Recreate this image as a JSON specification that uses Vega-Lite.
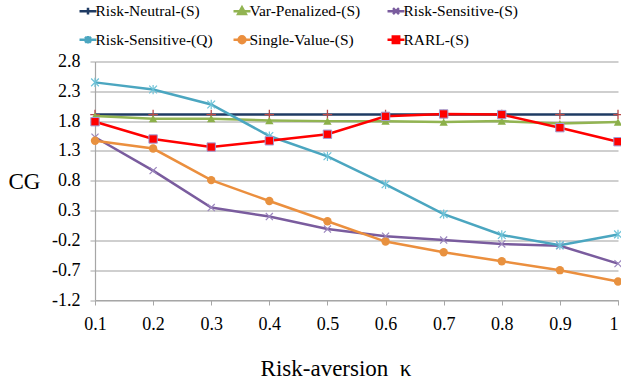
{
  "$schema": "https://vega.github.io/schema/vega-lite/v6.json",
  "width": 523,
  "height": 238.5,
  "autosize": "none",
  "padding": {"left": 95, "top": 61.5, "right": 3, "bottom": 82},
  "background": "white",
  "config": {"font": "Liberation Serif", "view": {"stroke": null}},
  "data": {
    "values": [
      {"kappa": 0.1, "series": "Risk-Neutral-(S)", "cg": 1.91},
      {"kappa": 0.2, "series": "Risk-Neutral-(S)", "cg": 1.91},
      {"kappa": 0.3, "series": "Risk-Neutral-(S)", "cg": 1.91},
      {"kappa": 0.4, "series": "Risk-Neutral-(S)", "cg": 1.91},
      {"kappa": 0.5, "series": "Risk-Neutral-(S)", "cg": 1.91},
      {"kappa": 0.6, "series": "Risk-Neutral-(S)", "cg": 1.91},
      {"kappa": 0.7, "series": "Risk-Neutral-(S)", "cg": 1.91},
      {"kappa": 0.8, "series": "Risk-Neutral-(S)", "cg": 1.91},
      {"kappa": 0.9, "series": "Risk-Neutral-(S)", "cg": 1.91},
      {"kappa": 1.0, "series": "Risk-Neutral-(S)", "cg": 1.91},
      {"kappa": 0.1, "series": "Var-Penalized-(S)", "cg": 1.885},
      {"kappa": 0.2, "series": "Var-Penalized-(S)", "cg": 1.84},
      {"kappa": 0.3, "series": "Var-Penalized-(S)", "cg": 1.84},
      {"kappa": 0.4, "series": "Var-Penalized-(S)", "cg": 1.81},
      {"kappa": 0.5, "series": "Var-Penalized-(S)", "cg": 1.80},
      {"kappa": 0.6, "series": "Var-Penalized-(S)", "cg": 1.80},
      {"kappa": 0.7, "series": "Var-Penalized-(S)", "cg": 1.785},
      {"kappa": 0.8, "series": "Var-Penalized-(S)", "cg": 1.80},
      {"kappa": 0.9, "series": "Var-Penalized-(S)", "cg": 1.76},
      {"kappa": 1.0, "series": "Var-Penalized-(S)", "cg": 1.785},
      {"kappa": 0.1, "series": "Risk-Sensitive-(S)", "cg": 1.53},
      {"kappa": 0.2, "series": "Risk-Sensitive-(S)", "cg": 0.97},
      {"kappa": 0.3, "series": "Risk-Sensitive-(S)", "cg": 0.35},
      {"kappa": 0.4, "series": "Risk-Sensitive-(S)", "cg": 0.20},
      {"kappa": 0.5, "series": "Risk-Sensitive-(S)", "cg": -0.01},
      {"kappa": 0.6, "series": "Risk-Sensitive-(S)", "cg": -0.13},
      {"kappa": 0.7, "series": "Risk-Sensitive-(S)", "cg": -0.195},
      {"kappa": 0.8, "series": "Risk-Sensitive-(S)", "cg": -0.26},
      {"kappa": 0.9, "series": "Risk-Sensitive-(S)", "cg": -0.29},
      {"kappa": 1.0, "series": "Risk-Sensitive-(S)", "cg": -0.59},
      {"kappa": 0.1, "series": "Risk-Sensitive-(Q)", "cg": 2.45},
      {"kappa": 0.2, "series": "Risk-Sensitive-(Q)", "cg": 2.33},
      {"kappa": 0.3, "series": "Risk-Sensitive-(Q)", "cg": 2.08},
      {"kappa": 0.4, "series": "Risk-Sensitive-(Q)", "cg": 1.55},
      {"kappa": 0.5, "series": "Risk-Sensitive-(Q)", "cg": 1.21},
      {"kappa": 0.6, "series": "Risk-Sensitive-(Q)", "cg": 0.74},
      {"kappa": 0.7, "series": "Risk-Sensitive-(Q)", "cg": 0.24},
      {"kappa": 0.8, "series": "Risk-Sensitive-(Q)", "cg": -0.11},
      {"kappa": 0.9, "series": "Risk-Sensitive-(Q)", "cg": -0.28},
      {"kappa": 1.0, "series": "Risk-Sensitive-(Q)", "cg": -0.10},
      {"kappa": 0.1, "series": "Single-Value-(S)", "cg": 1.47},
      {"kappa": 0.2, "series": "Single-Value-(S)", "cg": 1.34},
      {"kappa": 0.3, "series": "Single-Value-(S)", "cg": 0.81},
      {"kappa": 0.4, "series": "Single-Value-(S)", "cg": 0.46},
      {"kappa": 0.5, "series": "Single-Value-(S)", "cg": 0.12},
      {"kappa": 0.6, "series": "Single-Value-(S)", "cg": -0.22},
      {"kappa": 0.7, "series": "Single-Value-(S)", "cg": -0.40},
      {"kappa": 0.8, "series": "Single-Value-(S)", "cg": -0.55},
      {"kappa": 0.9, "series": "Single-Value-(S)", "cg": -0.70},
      {"kappa": 1.0, "series": "Single-Value-(S)", "cg": -0.89},
      {"kappa": 0.1, "series": "RARL-(S)", "cg": 1.79},
      {"kappa": 0.2, "series": "RARL-(S)", "cg": 1.50},
      {"kappa": 0.3, "series": "RARL-(S)", "cg": 1.365},
      {"kappa": 0.4, "series": "RARL-(S)", "cg": 1.47},
      {"kappa": 0.5, "series": "RARL-(S)", "cg": 1.58},
      {"kappa": 0.6, "series": "RARL-(S)", "cg": 1.88},
      {"kappa": 0.7, "series": "RARL-(S)", "cg": 1.92},
      {"kappa": 0.8, "series": "RARL-(S)", "cg": 1.91},
      {"kappa": 0.9, "series": "RARL-(S)", "cg": 1.69},
      {"kappa": 1.0, "series": "RARL-(S)", "cg": 1.455}
    ]
  },
  "encoding": {
    "x": {
      "field": "kappa",
      "type": "quantitative",
      "scale": {"domain": [0.1, 1], "nice": false, "zero": false},
      "axis": {
        "values": [0.1, 0.2, 0.3, 0.4, 0.5, 0.6, 0.7, 0.8, 0.9, 1],
        "format": "~g",
        "title": "Risk-aversion \u00a0κ",
        "grid": false,
        "domainColor": "#A6A6A6",
        "domainWidth": 1.2,
        "tickColor": "#A6A6A6",
        "tickSize": 5,
        "labelFont": "Liberation Serif",
        "labelFontSize": 18,
        "labelColor": "black",
        "labelPadding": 10,
        "labelFlush": false,
        "labelOverlap": false,
        "labelAlign": {"expr": "datum.value === 1 ? 'right' : 'center'"},
        "titleFont": "Liberation Serif",
        "titleFontSize": 23,
        "titleFontWeight": "normal",
        "titleColor": "black",
        "titleX": 240.5,
        "titleY": 75,
        "titleAlign": "center",
        "titleBaseline": "alphabetic"
      }
    },
    "y": {
      "field": "cg",
      "type": "quantitative",
      "scale": {"domain": [-1.2, 2.8], "nice": false, "zero": false},
      "axis": {
        "values": [-1.2, -0.7, -0.2, 0.3, 0.8, 1.3, 1.8, 2.3, 2.8],
        "labelExpr": "(datum.value < 0 ? '-' : '') + format(abs(datum.value), '.1f')",
        "title": "CG",
        "titleAngle": 0,
        "titleX": -71,
        "titleY": 120,
        "titleAlign": "center",
        "titleBaseline": "middle",
        "titleFont": "Liberation Serif",
        "titleFontSize": 23,
        "titleFontWeight": "normal",
        "titleColor": "black",
        "grid": true,
        "gridColor": "#BFBFBF",
        "gridWidth": 1.5,
        "domainColor": "#A6A6A6",
        "domainWidth": 1.2,
        "tickColor": "#A6A6A6",
        "tickSize": 5,
        "labelFont": "Liberation Serif",
        "labelFontSize": 18,
        "labelColor": "black",
        "labelPadding": 10,
        "labelFlush": false,
        "labelOverlap": false
      }
    }
  },
  "layer": [
    {
      "mark": {"type": "line", "strokeWidth": 2.5},
      "encoding": {
        "color": {
          "field": "series",
          "type": "nominal",
          "scale": {
            "domain": ["Risk-Neutral-(S)", "Var-Penalized-(S)", "Risk-Sensitive-(S)", "Risk-Sensitive-(Q)", "Single-Value-(S)", "RARL-(S)"],
            "range": ["#1F3B63", "#92B452", "#7A5C9E", "#4BA6C0", "#EB8F3E", "#FF0000"]
          },
          "legend": {
            "orient": "none",
            "direction": "horizontal",
            "legendX": -19,
            "legendY": -58.5,
            "columns": 3,
            "title": null,
            "labelFont": "Liberation Serif",
            "labelFontSize": 15.5,
            "labelColor": "black",
            "labelLimit": 300,
            "labelOffset": 4,
            "symbolSize": 72,
            "symbolStrokeWidth": 2.5,
            "columnPadding": 15,
            "rowPadding": 10,
            "gridAlign": "all",
            "encode": {
              "symbols": {
                "update": {
                  "shape": {"signal": "datum.value === 'Risk-Neutral-(S)' ? 'M-1,0H3M1,-0.8V0.8' : datum.value === 'Var-Penalized-(S)' ? 'M-1,0H3M1,-0.9L1.9,0.7H0.1Z' : datum.value === 'Risk-Sensitive-(S)' ? 'M-1,0H3M0.3,-0.7L1.7,0.7M0.3,0.7L1.7,-0.7' : datum.value === 'Risk-Sensitive-(Q)' ? 'M-1,0H3M0.3,-0.7L1.7,0.7M0.3,0.7L1.7,-0.7M1,-0.9V0.9' : datum.value === 'Single-Value-(S)' ? 'M-1,0H3M1.8,0A0.8,0.8,0,1,1,0.2,0A0.8,0.8,0,1,1,1.8,0Z' : 'M-1,0H3M0.25,-0.75H1.75V0.75H0.25Z'"},
                  "fill": {"signal": "scale('color', datum.value)"}
                }
              }
            }
          }
        }
      }
    },
    {
      "transform": [{"filter": "datum.series === 'Risk-Neutral-(S)'"}],
      "mark": {"type": "point", "shape": "M-1,0H1M0,-1V1", "filled": false, "stroke": "#B94A48", "strokeWidth": 1.3, "size": 90, "opacity": 1}
    },
    {
      "transform": [{"filter": "datum.series === 'Var-Penalized-(S)'"}],
      "mark": {"type": "point", "shape": "triangle-up", "filled": true, "color": "#8CB04A", "size": 70, "opacity": 1}
    },
    {
      "transform": [{"filter": "datum.series === 'Risk-Sensitive-(S)'"}],
      "mark": {"type": "point", "shape": "M-1,-1L1,1M-1,1L1,-1", "filled": false, "stroke": "#9B86BE", "strokeWidth": 1.2, "size": 50, "opacity": 1}
    },
    {
      "transform": [{"filter": "datum.series === 'Risk-Sensitive-(Q)'"}],
      "mark": {"type": "point", "shape": "M-1,-1L1,1M-1,1L1,-1M0,-1.2V1.2", "filled": false, "stroke": "#6EC3D8", "strokeWidth": 1.2, "size": 60, "opacity": 1}
    },
    {
      "transform": [{"filter": "datum.series === 'Single-Value-(S)'"}],
      "mark": {"type": "point", "shape": "circle", "filled": true, "color": "#E8913F", "size": 70, "opacity": 1}
    },
    {
      "transform": [{"filter": "datum.series === 'RARL-(S)'"}],
      "mark": {"type": "point", "shape": "square", "filled": true, "fill": "#FF0000", "stroke": "#9E9ED6", "strokeWidth": 1, "size": 70, "opacity": 1}
    }
  ]
}
